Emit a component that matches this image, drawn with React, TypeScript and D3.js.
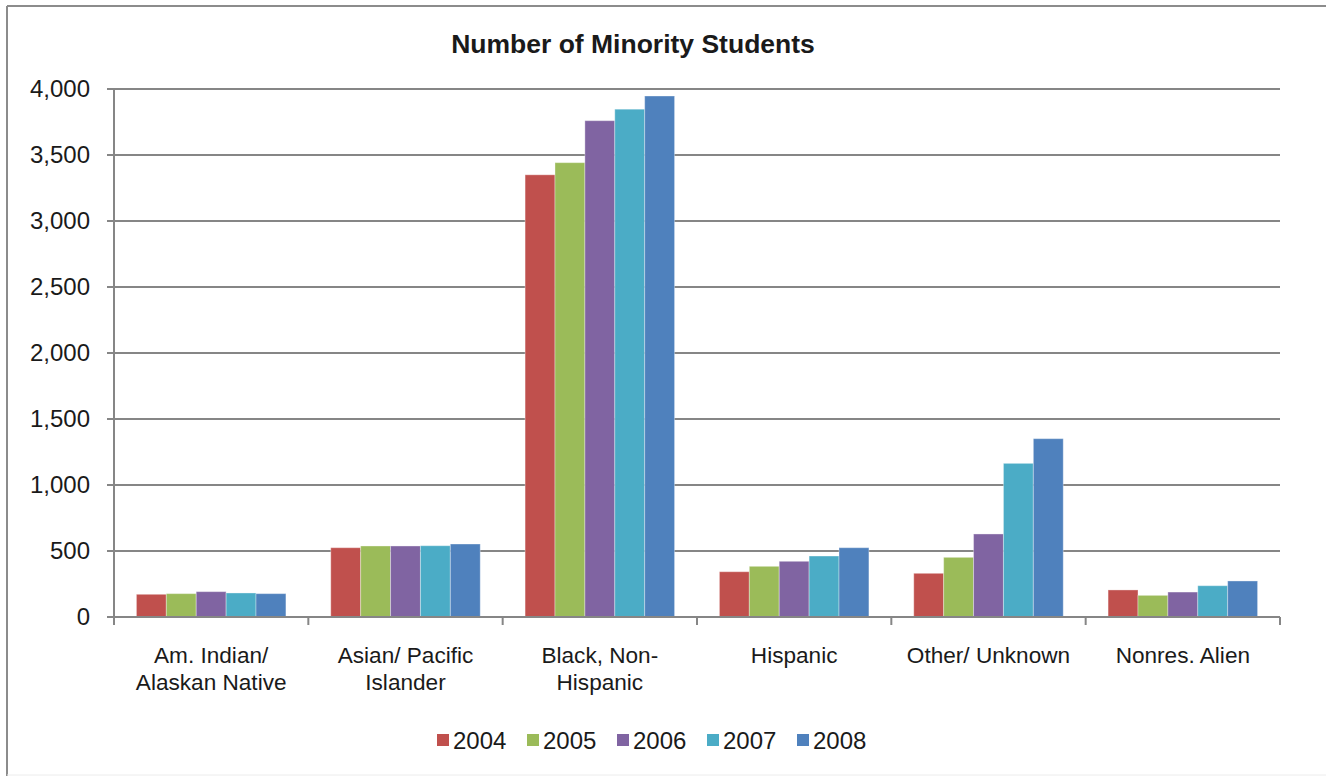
import React from "react";
import * as d3 from "d3";

const categories = [
  ["Am. Indian/", "Alaskan Native"],
  ["Asian/ Pacific", "Islander"],
  ["Black, Non-", "Hispanic"],
  ["Hispanic"],
  ["Other/ Unknown"],
  ["Nonres. Alien"],
];
const seriesNames = ["2004", "2005", "2006", "2007", "2008"];
const seriesColors = ["#C0504D", "#9BBB59", "#8064A2", "#4BACC6", "#4F81BD"];
const values2004 = [172, 525, 3350, 343, 331, 205];
const values2005 = [177, 538, 3442, 384, 452, 164];
const values2006 = [192, 538, 3760, 422, 629, 189];
const values2007 = [182, 540, 3847, 462, 1164, 237];
const values2008 = [177, 553, 3947, 525, 1351, 273];
const yTicks = [0, 500, 1000, 1500, 2000, 2500, 3000, 3500, 4000];

const allValues = [values2004, values2005, values2006, values2007, values2008];

const W = 1326;
const H = 776;
const left = 114;
const right = 1280;
const top = 89;
const bottom = 617;
const FONT = "'Liberation Sans', Arial, sans-serif";
const AXIS = "#868686";

export default function App() {
  const catKeys = categories.map((_, i) => String(i));
  const x0 = d3.scaleBand<string>().domain(catKeys).range([left, right]).padding(0);
  const x1 = d3
    .scaleBand<string>()
    .domain(seriesNames)
    .range([0, x0.bandwidth()])
    .paddingInner(0)
    .paddingOuter(0.75);
  const y = d3.scaleLinear().domain([0, 4000]).range([bottom, top]);
  const fmt = d3.format(",");

  const boundaries = catKeys.map((k) => x0(k)!).concat([right]);

  return (
    <svg
      width={W}
      height={H}
      style={{ position: "fixed", left: 0, top: 0, background: "#fff" }}
      fontFamily={FONT}
    >
      <rect x={0} y={0} width={W} height={H} fill="#fff" />
      {/* frame */}
      <line x1={7} y1={6} x2={W} y2={6} stroke="#8c8c8c" strokeWidth={2} />
      <line x1={7} y1={6} x2={7} y2={H} stroke="#8c8c8c" strokeWidth={2} />
      <line x1={7} y1={775} x2={W} y2={775} stroke="#ececec" strokeWidth={1} />

      <text x={633} y={53} textAnchor="middle" fontSize={26.5} fontWeight="bold" fill="#1a1a1a">
        Number of Minority Students
      </text>

      {/* gridlines */}
      {yTicks.map((t) => (
        <line key={"g" + t} x1={left - 7} x2={right} y1={y(t)} y2={y(t)} stroke={AXIS} strokeWidth={2} />
      ))}
      {yTicks.map((t) => (
        <text key={"yl" + t} x={90} y={y(t) + 8} textAnchor="end" fontSize={24} fill="#1a1a1a">
          {fmt(t)}
        </text>
      ))}

      {/* bars */}
      {catKeys.map((k, ci) => (
        <g key={"c" + k} transform={`translate(${x0(k)},0)`}>
          {seriesNames.map((s, si) => {
            const v = allValues[si][ci];
            return (
              <rect
                key={s}
                x={x1(s)!}
                y={y(v)}
                width={x1.bandwidth()}
                height={y(0) - y(v)}
                fill={seriesColors[si]}
                stroke="#ffffff"
                strokeOpacity={0.35}
                strokeWidth={1}
              />
            );
          })}
        </g>
      ))}

      {/* axes */}
      <line x1={left} x2={left} y1={top} y2={bottom} stroke={AXIS} strokeWidth={2} />
      <line x1={left - 7} x2={right} y1={bottom} y2={bottom} stroke={AXIS} strokeWidth={2} />
      {boundaries.map((b, i) => (
        <line key={"t" + i} x1={b} x2={b} y1={bottom} y2={bottom + 8} stroke={AXIS} strokeWidth={2} />
      ))}

      {/* category labels */}
      {categories.map((lines, ci) => (
        <text
          key={"cl" + ci}
          x={x0(String(ci))! + x0.bandwidth() / 2}
          textAnchor="middle"
          fontSize={22.6}
          fill="#1a1a1a"
        >
          {lines.map((ln, li) => (
            <tspan key={li} x={x0(String(ci))! + x0.bandwidth() / 2} y={663 + li * 27}>
              {ln}
            </tspan>
          ))}
        </text>
      ))}

      {/* legend */}
      {seriesNames.map((s, si) => {
        const lx = 437 + si * 90;
        return (
          <g key={"lg" + s}>
            <rect x={lx} y={734} width={12} height={12} fill={seriesColors[si]} />
            <text x={lx + 16} y={749} fontSize={24} fill="#1a1a1a">
              {s}
            </text>
          </g>
        );
      })}
    </svg>
  );
}
